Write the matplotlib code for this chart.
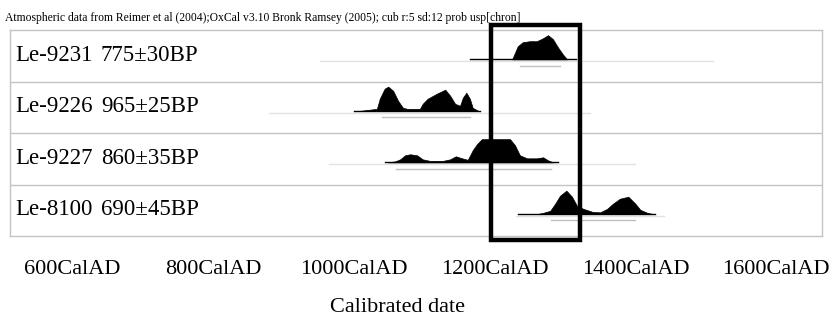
import matplotlib.pyplot as plt
import matplotlib.transforms as mtransforms
from matplotlib.patches import Rectangle

header = ("Atmospheric data from Reimer et al (2004);OxCal v3.10 Bronk Ramsey (2005); "
          "cub r:5 sd:12 prob usp[chron]")

samples = ["Le-9231", "Le-9226", "Le-9227", "Le-8100"]
ages = ["775\u00b130BP", "965\u00b125BP", "860\u00b135BP", "690\u00b145BP"]

# probability curves (calendar year, relative height)
years_9231 = [1225, 1233, 1240, 1250, 1260, 1269, 1276, 1283, 1290, 1297, 1303]
prob_9231 = [0, 13, 17, 18, 18, 21, 24, 20, 12, 5, 0]

years_9226 = [1009, 1033, 1037, 1044, 1049, 1056, 1063, 1070, 1076, 1087, 1094,
              1098, 1105, 1118, 1130, 1137, 1144, 1151, 1155, 1160, 1165, 1169, 1177]
prob_9226 = [0, 2, 12, 22, 24, 20, 10, 3, 2, 2, 2,
             7, 12, 17, 21, 15, 7, 5, 13, 18, 12, 3, 0]

years_9227 = [1049, 1059, 1066, 1073, 1080, 1090, 1098, 1108, 1127, 1137, 1145,
              1154, 1162, 1169, 1175, 1182, 1204, 1222, 1229, 1236, 1246, 1260,
              1269, 1276, 1283]
prob_9227 = [0, 1, 3, 7, 8, 7, 3, 1.5, 1.5, 3, 6,
             4, 2.5, 12, 18, 23, 23, 23, 17, 7, 4, 4,
             5, 2, 0]

years_8100 = [1262, 1269, 1279, 1286, 1293, 1302, 1310, 1317, 1326, 1339, 1350,
              1360, 1368, 1378, 1390, 1400, 1407, 1417, 1424]
prob_8100 = [0, 1, 3, 10, 18, 23, 17, 8, 5, 2, 1.5,
             5, 10, 15, 17, 10, 4, 1, 0]

curve_years = [years_9231, years_9226, years_9227, years_8100]
curve_probs = [prob_9231, prob_9226, prob_9227, prob_8100]

# black baseline span, 95% range bar, faint grey guide line
baseline_spans = [(1165, 1315), (1000, 1180), (1045, 1290), (1233, 1428)]
range_bars = [[(1236, 1293)], [(1040, 1165)], [(1060, 1280)], [(1280, 1400)]]
guide_spans = [(952, 1510), (880, 1335), (965, 1400), (1230, 1440)]

tick_years = [600, 800, 1000, 1200, 1400, 1600]
tick_labels = [f"{y}CalAD" for y in tick_years]
highlight = (1195, 1322)

plt.rcParams["font.family"] = ["Liberation Serif", "DejaVu Serif"]

fig = plt.figure(figsize=(8.32, 3.18), dpi=100)
ax = fig.add_axes([10 / 832, 82 / 318, 812 / 832, 206 / 318])
ax.set_xlim(512, 1665)
ax.set_ylim(0, 4)

frame_color = "#c4c4c4"
for side in ["top", "bottom", "left", "right"]:
    ax.spines[side].set_color(frame_color)
    ax.spines[side].set_linewidth(1.0)
for k in [1, 2, 3]:
    ax.axhline(k, color=frame_color, lw=1.0)

peak = max(max(p) for p in curve_probs)
row_text = mtransforms.blended_transform_factory(ax.transAxes, ax.transData)

for i in range(len(samples)):
    base = 4 - i - 0.57
    ax.plot(guide_spans[i], [base - 0.04, base - 0.04], color="#e2e2e2", lw=1.0, zorder=1)
    for r0, r1 in range_bars[i]:
        ax.plot([r0, r1], [base - 0.12, base - 0.12], color="#c0c0c0", lw=1.0, zorder=1)
    ax.plot(baseline_spans[i], [base, base], color="black", lw=1.0, zorder=2)
    tops = [base + 0.47 * p / peak for p in curve_probs[i]]
    ax.fill_between(curve_years[i], base, tops, color="black", lw=0.5, zorder=3)
    ax.text(0.006, base - 0.03, samples[i], transform=row_text,
            fontsize=16.5, va="baseline", ha="left")
    ax.text(0.112, base - 0.03, ages[i], transform=row_text,
            fontsize=16.5, va="baseline", ha="left")

box_trans = mtransforms.blended_transform_factory(ax.transData, ax.transAxes)
ax.add_patch(Rectangle((highlight[0], -0.02), highlight[1] - highlight[0], 1.045,
                       transform=box_trans, fill=False, ec="black", lw=3.2,
                       clip_on=False, zorder=5))

ax.set_yticks([])
ax.set_xticks(tick_years)
ax.set_xticklabels(tick_labels, fontsize=16)
ax.tick_params(axis="x", length=0, pad=17)

fig.text(5 / 832, 1 - 21 / 318, header, fontsize=8.4, va="baseline", ha="left")
fig.text(397 / 832, 1 - 312 / 318, "Calibrated date", fontsize=16,
         va="baseline", ha="center")

fig.savefig("out.png", dpi=100)
